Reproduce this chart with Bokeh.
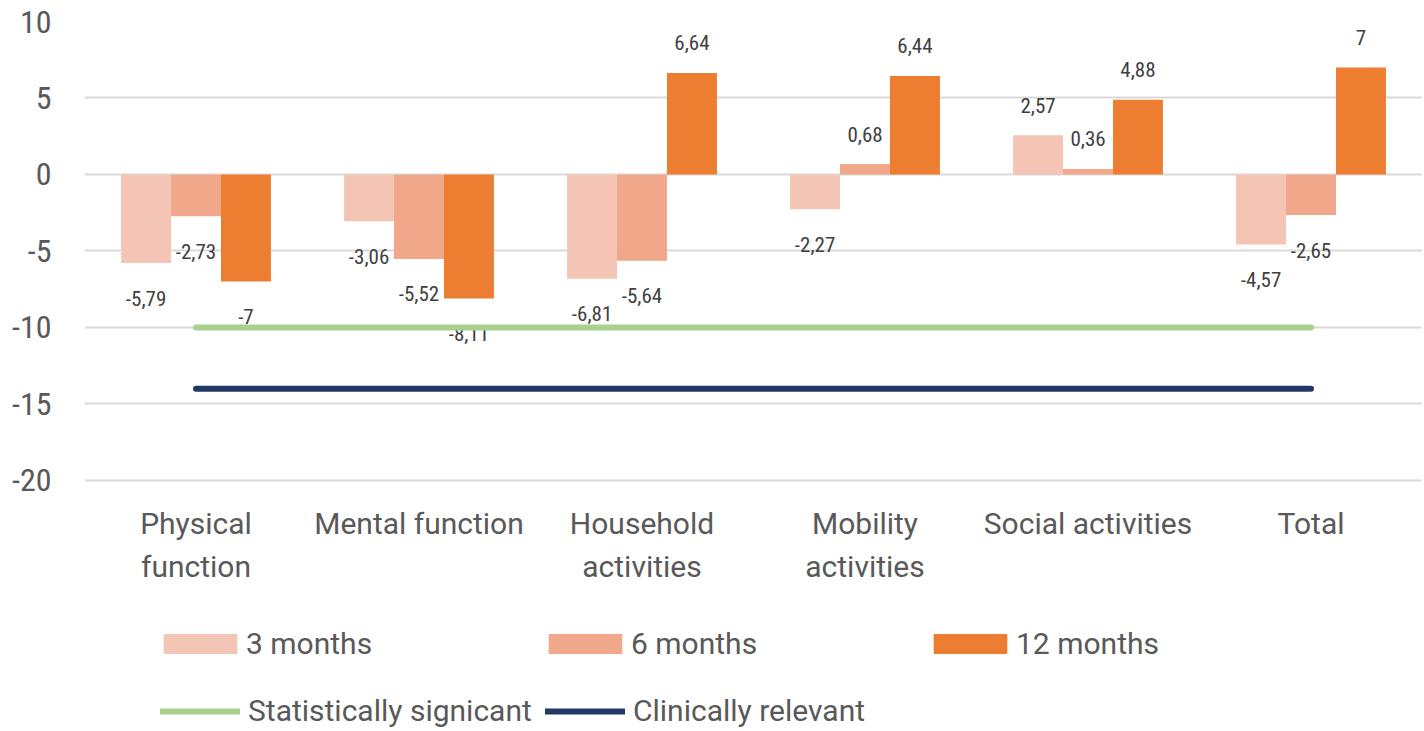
from bokeh.plotting import figure
from bokeh.models import ColumnDataSource, Legend, LegendItem, Range1d, FixedTicker
from bokeh.transform import dodge
from bokeh.core.properties import value
from bokeh.embed import file_html
from bokeh.resources import INLINE

categories = ["Physical function", "Mental function", "Household activities",
              "Mobility activities", "Social activities", "Total"]
cat_line1 = ["Physical", "Mental function", "Household", "Mobility", "Social activities", "Total"]
cat_line2 = ["function", "", "activities", "activities", "", ""]
series_names = ["3 months", "6 months", "12 months"]
m3 = [-5.79, -3.06, -6.81, -2.27, 2.57, -4.57]
m6 = [-2.73, -5.52, -5.64, 0.68, 0.36, -2.65]
m12 = [-7.0, -8.11, 6.64, 6.44, 4.88, 7.0]
sig_level = -10
clin_level = -14
yticks = [10, 5, 0, -5, -10, -15, -20]

colors = ["#F4C5B5", "#F0A78A", "#ED7D31"]
NARROW = "Roboto Condensed, DejaVu Sans Condensed, Roboto, sans-serif"
FONT = "Roboto, sans-serif"
TXT = "#595959"

xi = list(range(len(categories)))

# frame extends below the -20 gridline to hold category labels and legend
p = figure(x_range=Range1d(-0.5, len(categories) - 0.5), y_range=Range1d(-36.275, 10),
           width=1422, height=729,
           min_border_left=84, min_border_top=21, min_border_right=0, min_border_bottom=0,
           output_backend="svg", toolbar_location=None, tools="")
p.outline_line_color = None
p.xaxis.visible = False

w = 0.224
offsets = [-w, 0.0, w]
bar_renderers = []
for name, vals, col, off in zip(series_names, [m3, m6, m12], colors, offsets):
    src = ColumnDataSource(dict(
        xi=xi, cat=categories, val=vals,
        txt=[("%g" % v).replace(".", ",") for v in vals],
        yoff=[-30 if v >= 0 else 35 for v in vals]))
    r = p.vbar(x=dodge("xi", off), top="val", bottom=0, width=w,
               source=src, fill_color=col, line_color=None)
    bar_renderers.append(r)
    p.text(x=dodge("xi", off), y="val", text="txt", y_offset="yoff",
           source=src, text_align="center", text_baseline="middle",
           text_font=value(NARROW), text_font_size="21px", text_color="#404040")

g = p.line(x=[xi[0], xi[-1]], y=[sig_level, sig_level],
           line_color="#A9D18E", line_width=6, line_cap="round")
n = p.line(x=[xi[0], xi[-1]], y=[clin_level, clin_level],
           line_color="#1F3864", line_width=6, line_cap="round")

# category labels (two lines) under the lowest gridline
csrc = ColumnDataSource(dict(xi=xi, base=[min(yticks)] * len(xi), l1=cat_line1, l2=cat_line2))
for col, off in (("l1", 43), ("l2", 86)):
    p.text(x="xi", y="base", text=col, y_offset=off, source=csrc,
           text_align="center", text_baseline="middle",
           text_font=value(FONT), text_font_size="30px", text_color=TXT)

p.yaxis.ticker = FixedTicker(ticks=yticks)
p.yaxis.major_label_overrides = {v: str(v) for v in yticks}
p.ygrid.grid_line_color = "#D9D9D9"
p.ygrid.grid_line_width = 2
p.xgrid.grid_line_color = None
ay = p.yaxis[0]
ay.axis_line_color = None
ay.major_tick_line_color = None
ay.minor_tick_line_color = None
ay.major_label_text_font = NARROW
ay.major_label_text_color = TXT
ay.major_label_text_font_size = "32px"
ay.major_label_standoff = 27


def mk_legend(items, loc, gw, gh, standoff, lw, sp):
    lg = Legend(items=items, location=loc, orientation="horizontal",
                glyph_width=gw, glyph_height=gh, label_standoff=standoff,
                label_width=lw, spacing=sp,
                padding=0, margin=0,
                border_line_color=None, background_fill_alpha=0,
                label_text_font=FONT, label_text_font_size="30px",
                label_text_color=TXT)
    p.add_layout(lg, "center")


mk_legend([LegendItem(label=nm, renderers=[r]) for nm, r in zip(series_names, bar_renderers)],
          (70, 68), 92, 25, 0, 281, 12)
mk_legend([LegendItem(label="Statistically signicant", renderers=[g]),
           LegendItem(label="Clinically relevant", renderers=[n])],
          (76, 1), 80, 20, 8, 288, 9)

open("out.html", "w").write(file_html(p, INLINE))
